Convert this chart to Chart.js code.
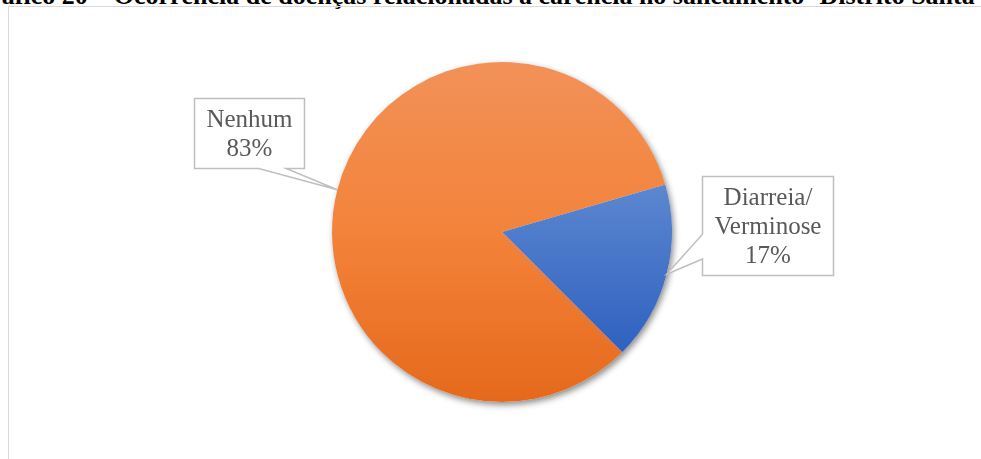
<!DOCTYPE html>
<html>
<head>
<meta charset="utf-8">
<script src="https://cdn.jsdelivr.net/npm/chart.js@4/dist/chart.umd.min.js"></script>
<style>
  html, body { margin: 0; padding: 0; background: #fff; overflow: hidden; }
  #wrap { position: relative; width: 981px; height: 459px; overflow: hidden; }
  #title {
    position: absolute; left: -30px; top: -17px;
    font: bold 26px "Liberation Serif", "Times New Roman", serif;
    line-height: 1; white-space: nowrap; color: #000;
  }
  #frame { position: absolute; left: 8px; top: 6px; width: 1100px; height: 600px; border: 1px solid #d9d9d9; }
  #box { position: absolute; left: 0; top: 0; width: 981px; height: 459px; }
</style>
</head>
<body>
<div id="wrap">
  <div id="title">Gráfico 20 – Ocorrência de doenças relacionadas à carência no saneamento- Distrito Santa</div>
  <div id="frame"></div>
  <div id="box"><canvas id="chart"></canvas></div>
</div>
<script>
const categories = ['Nenhum', 'Diarreia/Verminose'];
const labelLines = [['Nenhum'], ['Diarreia/', 'Verminose']];
const percents = [83, 17];

// box centre offset from the slice's outer mid point, and which side the tail leaves from
const callouts = [
  { dx: -88, dy: -57, side: 'bottom' },
  { dx: 101, dy: -49, side: 'left' },
];

function makeGradient(chart, stops) {
  const area = chart.chartArea;
  const g = chart.ctx.createLinearGradient(0, area.top, 0, area.bottom);
  stops.forEach(([at, color]) => g.addColorStop(at, color));
  return g;
}

const sliceStops = [
  [[0, '#F29158'], [0.5, '#F3833A'], [1, '#E5691B']],
  [[0, '#6790D6'], [0.37, '#5B86D0'], [0.85, '#2F61BF'], [1, '#2A5BB8']],
];
const sliceFallback = ['#ED7D31', '#4472C4'];

const pieShadow = {
  id: 'pieShadow',
  beforeDatasetsDraw(chart) {
    const arc = chart.getDatasetMeta(0).data[0];
    if (!arc) return;
    const ctx = chart.ctx;
    ctx.save();
    ctx.beginPath();
    ctx.arc(arc.x, arc.y, arc.outerRadius, 0, Math.PI * 2);
    ctx.fillStyle = '#fff';
    ctx.shadowColor = 'rgba(0,0,0,0.45)';
    ctx.shadowBlur = 6;
    ctx.shadowOffsetX = 2;
    ctx.shadowOffsetY = 3;
    ctx.fill();
    ctx.restore();
  },
};

const calloutLabels = {
  id: 'calloutLabels',
  afterDatasetsDraw(chart) {
    const ctx = chart.ctx;
    const lineHeight = 29;
    ctx.save();
    ctx.font = '25px "Liberation Serif", "Times New Roman", serif';
    chart.getDatasetMeta(0).data.forEach((arc, i) => {
      const mid = (arc.startAngle + arc.endAngle) / 2;
      const tipX = arc.x + Math.cos(mid) * arc.outerRadius;
      const tipY = arc.y + Math.sin(mid) * arc.outerRadius;
      const lines = [...labelLines[i], `${percents[i]}%`];
      const textW = Math.max(...lines.map(line => ctx.measureText(line).width));
      const w = Math.round(textW + 24);
      const h = lines.length * lineHeight + 12;
      const cx = tipX + callouts[i].dx;
      const cy = tipY + callouts[i].dy;
      const left = Math.round(cx - w / 2) + 0.5;
      const top = Math.round(cy - h / 2) + 0.5;
      const right = left + w;
      const bottom = top + h;

      ctx.beginPath();
      ctx.moveTo(left, top);
      ctx.lineTo(right, top);
      if (callouts[i].side === 'bottom') {
        const a = tipX > cx ? left + w * 7 / 12 : left + w * 2 / 12;
        const b = tipX > cx ? left + w * 10 / 12 : left + w * 5 / 12;
        ctx.lineTo(right, bottom);
        ctx.lineTo(b, bottom);
        ctx.lineTo(tipX, tipY);
        ctx.lineTo(a, bottom);
        ctx.lineTo(left, bottom);
      } else {
        const a = tipY > cy ? top + h * 7 / 12 : top + h * 2 / 12;
        const b = tipY > cy ? top + h * 10 / 12 : top + h * 5 / 12;
        ctx.lineTo(right, bottom);
        ctx.lineTo(left, bottom);
        ctx.lineTo(left, b);
        ctx.lineTo(tipX, tipY);
        ctx.lineTo(left, a);
      }
      ctx.closePath();
      ctx.fillStyle = '#fff';
      ctx.fill();
      ctx.strokeStyle = '#bfbfbf';
      ctx.lineWidth = 1.5;
      ctx.stroke();

      ctx.fillStyle = '#595959';
      ctx.textAlign = 'center';
      ctx.textBaseline = 'middle';
      lines.forEach((line, k) => {
        ctx.fillText(line, left + w / 2, top + 6 + lineHeight / 2 + k * lineHeight + 1);
      });
    });
    ctx.restore();
  },
};

new Chart(document.getElementById('chart'), {
  type: 'pie',
  data: {
    labels: categories,
    datasets: [{
      data: percents,
      backgroundColor: context => {
        const i = context.dataIndex;
        if (!context.chart.chartArea) return sliceFallback[i];
        return makeGradient(context.chart, sliceStops[i]);
      },
      borderWidth: 0,
    }],
  },
  options: {
    responsive: true,
    maintainAspectRatio: false,
    animation: false,
    rotation: 135,
    layout: { padding: { left: 332, right: 309, top: 62, bottom: 57 } },
    plugins: {
      legend: { display: false },
      tooltip: { enabled: false },
    },
  },
  plugins: [pieShadow, calloutLabels],
});
</script>
</body>
</html>
